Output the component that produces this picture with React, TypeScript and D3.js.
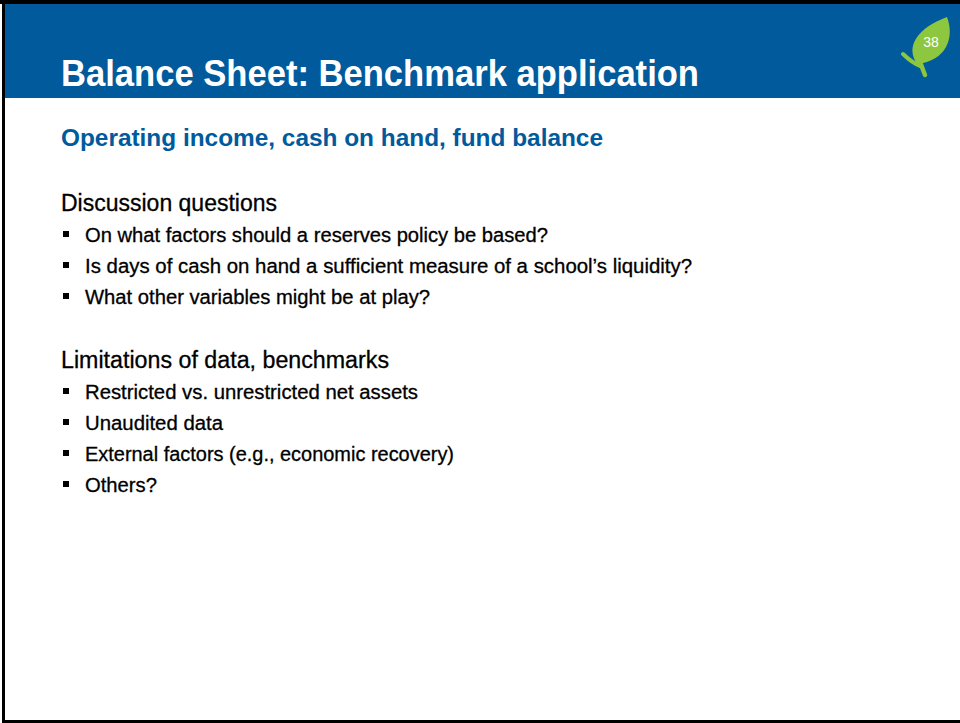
import React, { useEffect, useRef } from 'react';
import * as d3 from 'd3';

const slideTitle = "Balance Sheet: Benchmark application";
const slideSubtitle = "Operating income, cash on hand, fund balance";
const slideNumber = "38";

const sectionHeads = ["Discussion questions", "Limitations of data, benchmarks"];
const discussionItems = [
  "On what factors should a reserves policy be based?",
  "Is days of cash on hand a sufficient measure of a school\u2019s liquidity?",
  "What other variables might be at play?",
];
const limitationItems = [
  "Restricted vs. unrestricted net assets",
  "Unaudited data",
  "External factors (e.g., economic recovery)",
  "Others?",
];
// measured text widths (px) in the reference, used to keep line lengths
const headWidths = [216, 328];
const discussionWidths = [463, 607, 345];
const limitationWidths = [333, 138, 369, 72];

const BLUE = "#005a9c";
const GREEN = "#8dc63f";
const FONT = "'Liberation Sans', Arial, sans-serif";

const Slide = () => {
  const svgRef = useRef<SVGSVGElement | null>(null);

  useEffect(() => {
    if (!svgRef.current) return;
    const svg = d3.select(svgRef.current);
    const width = 960;
    const height = 723;
    svg.selectAll("*").remove();

    svg.append("rect").attr("width", width).attr("height", height).attr("fill", "#fff");

    // header band
    svg.append("rect").attr("x", 5).attr("y", 4).attr("width", width - 5).attr("height", 94).attr("fill", BLUE);

    // frame
    svg.append("rect").attr("x", 0).attr("y", 0).attr("width", width).attr("height", 4).attr("fill", "#000");
    svg.append("rect").attr("x", 2).attr("y", 0).attr("width", 3).attr("height", height).attr("fill", "#000");
    svg.append("rect").attr("x", 2).attr("y", height - 3).attr("width", width - 2).attr("height", 3).attr("fill", "#000");

    svg.append("text")
      .attr("x", 61).attr("y", 86)
      .attr("font-family", FONT).attr("font-size", 36).attr("font-weight", "bold")
      .attr("fill", "#fff")
      .attr("textLength", 638).attr("lengthAdjust", "spacingAndGlyphs")
      .text(slideTitle);

    // leaf badge
    const leaf = svg.append("g");
    leaf.append("path")
      .attr("d", "M919,58 C921,65 923,70 925,75")
      .attr("fill", "none").attr("stroke", GREEN).attr("stroke-width", 4.5).attr("stroke-linecap", "round");
    leaf.append("path")
      .attr("d", "M922,67 C915,64 908,59 903,54")
      .attr("fill", "none").attr("stroke", GREEN).attr("stroke-width", 4).attr("stroke-linecap", "round");
    leaf.append("path")
      .attr("d", "M917,64 C905,47 917,28 947,17 C955,38 946,61 917,64 Z")
      .attr("fill", GREEN);
    leaf.append("text")
      .attr("x", 931).attr("y", 47).attr("text-anchor", "middle")
      .attr("font-family", FONT).attr("font-size", 14).attr("fill", "#fff")
      .text(slideNumber);

    svg.append("text")
      .attr("x", 61).attr("y", 146)
      .attr("font-family", FONT).attr("font-size", 23).attr("font-weight", "bold")
      .attr("fill", BLUE)
      .attr("textLength", 542).attr("lengthAdjust", "spacingAndGlyphs")
      .text(slideSubtitle);

    const groups = [
      { head: sectionHeads[0], headW: headWidths[0], items: discussionItems, widths: discussionWidths, y0: 211 },
      { head: sectionHeads[1], headW: headWidths[1], items: limitationItems, widths: limitationWidths, y0: 368 },
    ];
    const pitch = 31;

    groups.forEach(g => {
      svg.append("text")
        .attr("x", 61).attr("y", g.y0)
        .attr("font-family", FONT).attr("font-size", 23)
        .attr("fill", "#000").attr("stroke", "#000").attr("stroke-width", 0.3)
        .attr("textLength", g.headW).attr("lengthAdjust", "spacingAndGlyphs")
        .text(g.head);

      const y = d3.scaleLinear().domain([0, 1]).range([g.y0 + pitch, g.y0 + 2 * pitch]);
      const rows = svg.append("g").selectAll("g").data(g.items).enter().append("g");
      rows.append("rect")
        .attr("x", 63).attr("y", (d, i) => y(i) - 11)
        .attr("width", 6).attr("height", 6).attr("fill", "#000");
      rows.append("text")
        .attr("x", 85).attr("y", (d, i) => y(i))
        .attr("font-family", FONT).attr("font-size", 20)
        .attr("fill", "#000").attr("stroke", "#000").attr("stroke-width", 0.3)
        .attr("textLength", (d, i) => g.widths[i]).attr("lengthAdjust", "spacingAndGlyphs")
        .text(d => d);
    });
  }, []);

  return (
    <svg
      ref={svgRef}
      width={960}
      height={723}
      viewBox="0 0 960 723"
      style={{ position: 'absolute', left: 0, top: 0, display: 'block' }}
    />
  );
};

export default function App() {
  return <Slide />;
}
